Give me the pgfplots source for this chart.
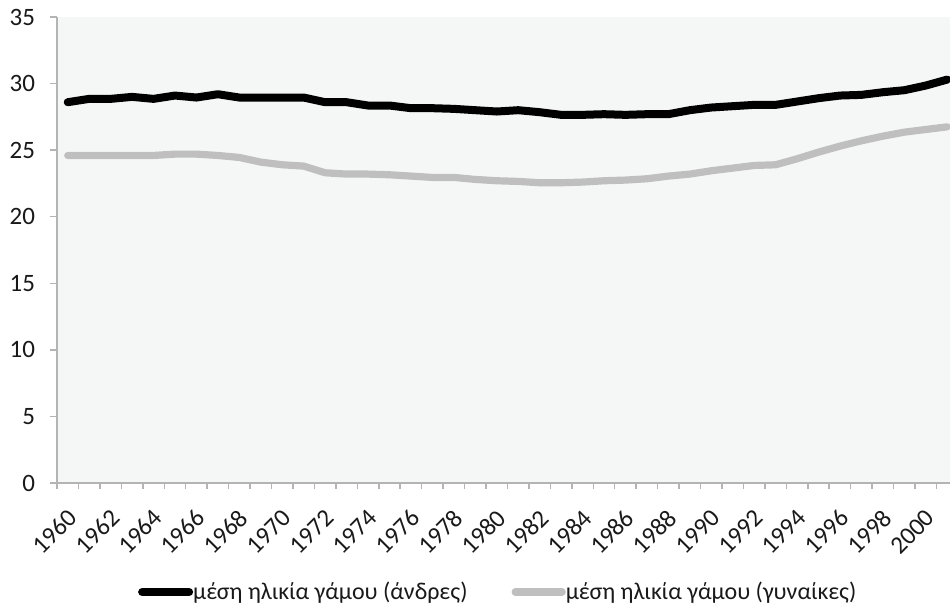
\documentclass[border=0pt]{standalone}
\usepackage{fontspec}
\setmainfont{Carlito}
\usepackage{pgfplots}
\pgfplotsset{compat=1.18}
\definecolor{bggray}{RGB}{245,247,247}
\definecolor{axgray}{RGB}{180,180,180}
\definecolor{linegray}{RGB}{191,191,191}
\definecolor{txt}{RGB}{25,25,25}
\begin{document}
\begin{tikzpicture}
\begin{axis}[
  scale only axis,
  width=446.5pt, height=233pt,
  xmin=1959.5, xmax=2001.13,
  ymin=0, ymax=35,
  ytick={0,5,...,35},
  xtick={1960,1962,...,2000},
  minor xtick={1959.5,1960.5,...,2001.5},
  major x tick style={draw=none},
  minor x tick style={draw=axgray, line width=0.75pt},
  ytick style={draw=axgray, line width=0.75pt},
  minor tick length=3pt,
  major tick length=3.5pt,
  tick align=outside,
  axis x line*=bottom, axis y line*=left,
  axis line style={draw=axgray, line width=0.75pt, -},
  axis background/.style={fill=bggray},
  /pgf/number format/assume math mode=true,
  /pgf/number format/1000 sep={},
  tick label style={font=\fontsize{12.5}{14}\selectfont, text=txt},
  xticklabel style={rotate=45, anchor=east, yshift=-10.1pt, xshift=-3.4pt},
  yticklabel style={xshift=-4pt},
  legend columns=2,
  legend style={at={(0.493,-0.234)}, anchor=center, draw=none, fill=none,
    font=\fontsize{12}{14}\selectfont, text=txt,
    /tikz/every even column/.append style={column sep=22pt},
    nodes={inner xsep=0pt}},
  legend image code/.code={\draw[#1] (0pt,0pt) -- (23.5pt,0pt);},
]
\addplot[black, line width=4pt, line join=round, line cap=round] coordinates {
(1960,28.6) (1961,28.85) (1962,28.85) (1963,29.0) (1964,28.85) (1965,29.1)
(1966,28.95) (1967,29.2) (1968,28.95) (1969,28.95) (1970,28.95) (1971,28.95)
(1972,28.6) (1973,28.6) (1974,28.35) (1975,28.35) (1976,28.15) (1977,28.15)
(1978,28.1) (1979,28.0) (1980,27.9) (1981,28.0) (1982,27.85) (1983,27.65)
(1984,27.65) (1985,27.7) (1986,27.65) (1987,27.7) (1988,27.7) (1989,28.0)
(1990,28.2) (1991,28.3) (1992,28.4) (1993,28.4) (1994,28.65) (1995,28.9)
(1996,29.1) (1997,29.15) (1998,29.35) (1999,29.5) (2000,29.85) (2001,30.3)
};
\addlegendentry{μέση ηλικία γάμου (άνδρες)}
\addplot[linegray, line width=3.6pt, line join=round, line cap=round] coordinates {
(1960,24.6) (1961,24.6) (1962,24.6) (1963,24.6) (1964,24.6) (1965,24.7)
(1966,24.7) (1967,24.6) (1968,24.45) (1969,24.1) (1970,23.9) (1971,23.8)
(1972,23.3) (1973,23.2) (1974,23.2) (1975,23.15) (1976,23.05) (1977,22.95)
(1978,22.95) (1979,22.8) (1980,22.7) (1981,22.65) (1982,22.55) (1983,22.55)
(1984,22.6) (1985,22.7) (1986,22.75) (1987,22.85) (1988,23.05) (1989,23.2)
(1990,23.45) (1991,23.65) (1992,23.85) (1993,23.9) (1994,24.35) (1995,24.85)
(1996,25.3) (1997,25.7) (1998,26.05) (1999,26.35) (2000,26.55) (2001,26.75)
};
\addlegendentry{μέση ηλικία γάμου (γυναίκες)}
\end{axis}
\pgfresetboundingbox
\path ([xshift=-28.5pt,yshift=-65pt]current axis.south west) rectangle ([yshift=8.5pt]current axis.north east);
\end{tikzpicture}
\end{document}
